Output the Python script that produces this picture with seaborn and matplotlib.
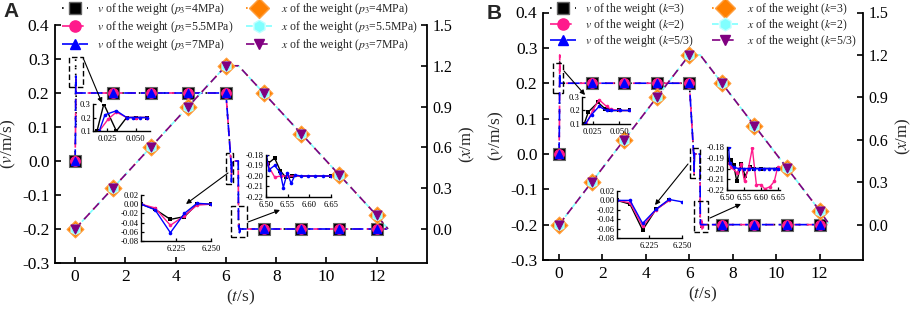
import matplotlib
matplotlib.use("Agg")
import matplotlib.pyplot as plt
import seaborn as sns
from matplotlib.lines import Line2D
from matplotlib.patches import Rectangle

# ----------------------------------------------------------------
# DATA
# ----------------------------------------------------------------
# markers (every 1.5 s)
t_mark = [0, 1.5, 3, 4.5, 6, 7.5, 9, 10.5, 12]
v_mark = [0.0, 0.2, 0.2, 0.2, 0.2, -0.2, -0.2, -0.2, -0.2]
x_mark = [0.0, 0.3, 0.6, 0.9, 1.2, 1.0, 0.7, 0.4, 0.1]

# displacement curve
t_disp = [0, 1.5, 3, 4.5, 6, 6.5, 7.5, 9, 10.5, 12, 12.45]
x_disp = [0.0, 0.3, 0.6, 0.9, 1.2, 1.2, 1.0, 0.7, 0.4, 0.1, 0.0]

# velocity plateaus
t_up = [0.07, 1.5, 3, 4.5, 6.0]
v_up = [0.2, 0.2, 0.2, 0.2, 0.2]
t_down = [6.7, 7.5, 9, 10.5, 12, 12.4]
v_down = [-0.2, -0.2, -0.2, -0.2, -0.2, -0.2]

# panel A transients (series order: p3=4, 5.5, 7 MPa)
A_start = [
    ([0.016, 0.022, 0.033, 0.042, 0.050, 0.060], [0.10, 0.30, 0.10, 0.20, 0.20, 0.20]),
    ([0.018, 0.026, 0.033, 0.042, 0.050, 0.060], [0.10, 0.19, 0.24, 0.20, 0.20, 0.20]),
    ([0.018, 0.023, 0.033, 0.042, 0.048, 0.054, 0.060], [0.10, 0.22, 0.25, 0.20, 0.20, 0.20, 0.20]),
]
A_dip = [
    ([6.200, 6.210, 6.221, 6.231, 6.240, 6.250], [0.0, -0.011, -0.033, -0.027, 0.000, 0.0]),
    ([6.200, 6.210, 6.221, 6.231, 6.240, 6.250], [0.0, -0.008, -0.046, -0.025, -0.002, 0.0]),
    ([6.200, 6.210, 6.221, 6.231, 6.240, 6.250], [0.0, -0.012, -0.062, -0.020, 0.002, 0.0]),
]
A_osc = [
    ([6.500, 6.505, 6.520, 6.533, 6.545, 6.560, 6.650],
     [-0.180, -0.188, -0.183, -0.195, -0.201, -0.200, -0.200]),
    ([6.502, 6.520, 6.535, 6.550, 6.650],
     [-0.188, -0.201, -0.200, -0.200, -0.200]),
    ([6.500, 6.507, 6.520, 6.533, 6.540, 6.549, 6.558, 6.567, 6.581, 6.598, 6.614, 6.632, 6.649],
     [-0.180, -0.194, -0.190, -0.197, -0.211, -0.197, -0.207, -0.199, -0.200, -0.200, -0.200, -0.200, -0.200]),
]

# panel B transients (series order: k=3, 2, 5/3)
B_start = [
    ([0.017, 0.021, 0.030, 0.037, 0.040, 0.050, 0.060], [0.10, 0.19, 0.26, 0.21, 0.20, 0.20, 0.20]),
    ([0.019, 0.025, 0.031, 0.038, 0.042, 0.050, 0.060], [0.10, 0.20, 0.28, 0.23, 0.21, 0.20, 0.20]),
    ([0.018, 0.024, 0.031, 0.038, 0.042, 0.051, 0.059], [0.10, 0.17, 0.23, 0.20, 0.20, 0.20, 0.20]),
]
B_dip = [
    ([6.200, 6.210, 6.2197, 6.230, 6.240], [0.0, -0.008, -0.063, -0.019, 0.000]),
    ([6.200, 6.210, 6.2197, 6.230, 6.240], [0.0, -0.005, -0.055, -0.020, 0.000]),
    ([6.200, 6.210, 6.2197, 6.230, 6.240, 6.250], [0.0, 0.000, -0.049, -0.019, 0.002, -0.003]),
]
B_osc = [
    ([6.500, 6.505, 6.512, 6.520, 6.529, 6.542, 6.554, 6.567, 6.580, 6.600, 6.650],
     [-0.182, -0.195, -0.192, -0.197, -0.212, -0.196, -0.207, -0.199, -0.200, -0.200, -0.200]),
    ([6.505, 6.512, 6.530, 6.542, 6.552, 6.564, 6.575, 6.587, 6.600, 6.612, 6.627, 6.640, 6.650],
     [-0.195, -0.199, -0.204, -0.196, -0.212, -0.199, -0.181, -0.215, -0.215, -0.219, -0.217, -0.212, -0.199]),
    ([6.505, 6.508, 6.520, 6.535, 6.550, 6.565, 6.580, 6.595, 6.610, 6.625, 6.640, 6.650],
     [-0.180, -0.195, -0.199, -0.200, -0.200, -0.200, -0.200, -0.200, -0.200, -0.200, -0.200, -0.200]),
]

A_v_labels = [r"$v$ of the weight ($p_3$=4MPa)", r"$v$ of the weight ($p_3$=5.5MPa)",
              r"$v$ of the weight ($p_3$=7MPa)"]
A_x_labels = [r"$x$ of the weight ($p_3$=4MPa)", r"$x$ of the weight ($p_3$=5.5MPa)",
              r"$x$ of the weight ($p_3$=7MPa)"]
B_v_labels = [r"$v$ of the weight ($k$=3)", r"$v$ of the weight ($k$=2)",
              r"$v$ of the weight ($k$=5/3)"]
B_x_labels = [r"$x$ of the weight ($k$=3)", r"$x$ of the weight ($k$=2)",
              r"$x$ of the weight ($k$=5/3)"]

# ----------------------------------------------------------------
# STYLE
# ----------------------------------------------------------------
sns.set_theme(style="ticks")
plt.rcParams["font.family"] = ["Liberation Serif", "DejaVu Serif"]
plt.rcParams["mathtext.fontset"] = "stix"
plt.rcParams["axes.unicode_minus"] = False

V_COLORS = ["black", "#FF1A8C", "#0000FF"]
V_LS = [(0, (1, 4)), (0, (5, 3)), (0, (7, 3))]
V_MARK = ["s", "o", "^"]
V_MS = [8, 7, 6]
V_EC = ["#666666", "#FF1A8C", "#0000FF"]

X_COLORS = ["#FF8000", "#80FFFF", "#800080"]
X_LS = [(0, (1, 3)), (0, (4, 2)), (0, (5, 3))]
X_MARK = ["D", "h", "v"]
X_MS = [8.6, 7.6, 6.5]
X_EC = ["#FFA040", "#C0FFFF", "#800080"]

IN_MARK = ["s", "o", "o"]

W, H = 913, 312
fig = plt.figure(figsize=(W / 100, H / 100), dpi=100)


def px_rect(x0, y0, x1, y1):
    return [x0 / W, 1 - y1 / H, (x1 - x0) / W, (y1 - y0) / H]


def main_panel(rect, start, dip, osc, v_labels, x_labels, xlim, leg_xy, leg_space, col_space):
    ax = fig.add_axes(px_rect(*rect))
    ax2 = ax.twinx()

    for i in range(3):
        t_line = [0.0] + start[i][0] + t_up + dip[i][0] + [6.49] + osc[i][0] + t_down
        v_line = [0.0] + start[i][1] + v_up + dip[i][1] + [0.0] + osc[i][1] + v_down
        sns.lineplot(x=t_line, y=v_line, ax=ax, color=V_COLORS[i], linestyle=V_LS[i],
                     lw=1.2, sort=False, estimator=None, legend=False)
    for i in range(3):
        sns.lineplot(x=t_disp, y=x_disp, ax=ax2, color=X_COLORS[i], linestyle=X_LS[i],
                     lw=1.2, sort=False, estimator=None, legend=False)
    for i in range(3):
        sns.scatterplot(x=t_mark, y=v_mark, ax=ax, marker=V_MARK[i], s=V_MS[i] ** 2,
                        color=V_COLORS[i], edgecolor=V_EC[i], linewidth=0.8,
                        zorder=3, legend=False)
        sns.scatterplot(x=t_mark, y=x_mark, ax=ax2, marker=X_MARK[i], s=X_MS[i] ** 2,
                        color=X_COLORS[i], edgecolor=X_EC[i], linewidth=0.8,
                        zorder=3, legend=False)

    ax.set_xlim(*xlim)
    ax.set_ylim(-0.3, 0.4)
    ax2.set_ylim(-0.25, 1.5)
    ax.set_xticks([0, 2, 4, 6, 8, 10, 12])
    yt = [-0.3, -0.2, -0.1, 0.0, 0.1, 0.2, 0.3, 0.4]
    ax.set_yticks(yt, labels=["%.1f" % v for v in yt])
    xt = [0.0, 0.3, 0.6, 0.9, 1.2, 1.5]
    ax2.set_yticks(xt, labels=["%.1f" % v for v in xt])

    ax.spines["top"].set_visible(False)
    ax.spines["right"].set_visible(False)
    for s in ["top", "left", "bottom"]:
        ax2.spines[s].set_visible(False)
    for a, size in ((ax, 12.5), (ax2, 11.5)):
        for s in a.spines.values():
            s.set_linewidth(1.3)
            s.set_color("black")
        a.tick_params(direction="in", length=4, width=1.2, labelsize=size,
                      colors="black", pad=4)
    ax.set_xlabel(r"($t$/s)", fontsize=12.5, labelpad=2)
    ax.set_ylabel(r"($v$/m/s)", fontsize=12.5, labelpad=3)
    ax2.set_ylabel(r"($x$/m)", fontsize=12, labelpad=4)
    ax.grid(False)
    ax2.grid(False)

    handles = []
    for i in range(3):
        handles.append(Line2D([], [], color=V_COLORS[i], linestyle=V_LS[i], lw=1.2,
                              marker=V_MARK[i], markersize=V_MS[i] * 1.15,
                              markerfacecolor=V_COLORS[i], markeredgecolor=V_EC[i]))
    for i in range(3):
        handles.append(Line2D([], [], color=X_COLORS[i], linestyle=X_LS[i], lw=1.2,
                              marker=X_MARK[i], markersize=X_MS[i] * 1.2,
                              markerfacecolor=X_COLORS[i], markeredgecolor=X_EC[i]))
    ax2.legend(handles=handles, labels=v_labels + x_labels, loc="upper left",
               bbox_to_anchor=(leg_xy[0] / W, 1 - leg_xy[1] / H),
               bbox_transform=fig.transFigure, ncol=2, frameon=False,
               borderpad=0, borderaxespad=0, handlelength=2.2, handletextpad=0.75,
               columnspacing=col_space, labelspacing=leg_space, fontsize=8.5)
    return ax


def inset(rect, data, xlim, ylim, xticks, xfmt, yticks, yfmt):
    axi = fig.add_axes(px_rect(*rect))
    axi.patch.set_alpha(0)
    for i in range(3):
        t, v = data[i]
        sns.lineplot(x=t, y=v, ax=axi, color=V_COLORS[i], lw=1.0, marker=IN_MARK[i],
                     markersize=2.6, markeredgewidth=0, sort=False, estimator=None,
                     legend=False)
    axi.set_xlim(*xlim)
    axi.set_ylim(*ylim)
    axi.set_xticks(xticks, labels=[xfmt % v for v in xticks])
    axi.set_yticks(yticks, labels=[yfmt % v for v in yticks])
    axi.spines["top"].set_visible(False)
    axi.spines["right"].set_visible(False)
    for s in axi.spines.values():
        s.set_linewidth(1.0)
        s.set_color("black")
    axi.tick_params(direction="in", length=2.5, width=0.9, labelsize=6.2, pad=1.5,
                    colors="black")
    axi.tick_params(axis="x", pad=3)
    axi.set_xlabel("")
    axi.set_ylabel("")
    axi.grid(False)
    return axi


def box(ax, t0, t1, v0, v1):
    ax.add_patch(Rectangle((t0, v0), t1 - t0, v1 - v0, fill=False, ec="black",
                           lw=1.0, ls=(0, (4, 2)), zorder=5, clip_on=False))


def arrow(ax, tail, head):
    ax.annotate("", xy=(head[0], H - head[1]), xytext=(tail[0], H - tail[1]),
                xycoords="figure pixels", textcoords="figure pixels",
                annotation_clip=False,
                arrowprops=dict(arrowstyle="-|>", color="black", lw=0.8,
                                mutation_scale=7, shrinkA=0, shrinkB=0))


# ----------------------------------------------------------------
# PANEL A
# ----------------------------------------------------------------
axA = main_panel((55, 25, 427, 263), A_start, A_dip, A_osc, A_v_labels, A_x_labels,
                 (-0.8, 14), (62, 1), 0.17, 1.1)
box(axA, -0.24, 0.32, 0.218, 0.306)
box(axA, 6.0, 6.3, -0.068, 0.024)
box(axA, 6.19, 6.83, -0.224, -0.132)
arrow(axA, (84, 60), (102, 103))
arrow(axA, (228, 173), (186, 204))
arrow(axA, (248, 222), (280, 210))
inset((93, 104, 150, 131), A_start, (0.0125, 0.0625), (0.1, 0.3),
      [0.025, 0.050], "%.3f", [0.1, 0.2, 0.3], "%.1f")
inset((141, 195, 211, 241), A_dip, (6.2, 6.25), (-0.08, 0.02),
      [6.225, 6.25], "%.3f", [-0.08, -0.06, -0.04, -0.02, 0.0, 0.02], "%.2f")
inset((266, 155, 331, 197), A_osc, (6.5, 6.65), (-0.22, -0.18),
      [6.50, 6.55, 6.60, 6.65], "%.2f", [-0.22, -0.21, -0.20, -0.19, -0.18], "%.2f")

# ----------------------------------------------------------------
# PANEL B
# ----------------------------------------------------------------
axB = main_panel((543, 12.5, 863, 260), B_start, B_dip, B_osc, B_v_labels, B_x_labels,
                 (-0.74, 14), (550, 1), 0.0, 1.5)
box(axB, -0.28, 0.18, 0.172, 0.256)
box(axB, 6.02, 6.48, -0.068, 0.016)
box(axB, 6.2, 6.85, -0.221, -0.134)
arrow(axB, (564, 71), (585, 95))
arrow(axB, (688, 164), (655, 205))
arrow(axB, (710, 218), (741, 204))
inset((582, 97, 630, 124), B_start, (0.015, 0.06), (0.1, 0.3),
      [0.025, 0.050], "%.3f", [0.1, 0.2, 0.3], "%.1f")
inset((617, 191, 682, 238), B_dip, (6.2, 6.25), (-0.08, 0.02),
      [6.225, 6.25], "%.3f", [-0.08, -0.06, -0.04, -0.02, 0.0, 0.02], "%.2f")
inset((727, 147, 780, 190), B_osc, (6.5, 6.657), (-0.22, -0.18),
      [6.50, 6.55, 6.60, 6.65], "%.2f", [-0.22, -0.21, -0.20, -0.19, -0.18], "%.2f")

fig.text(3 / W, 1 - 2 / H, "A", ha="left", va="top", fontsize=15, fontweight="bold",
         family="Liberation Sans")
fig.text(487 / W, 1 - 4 / H, "B", ha="left", va="top", fontsize=15, fontweight="bold",
         family="Liberation Sans")

fig.savefig("out.png", dpi=100)
